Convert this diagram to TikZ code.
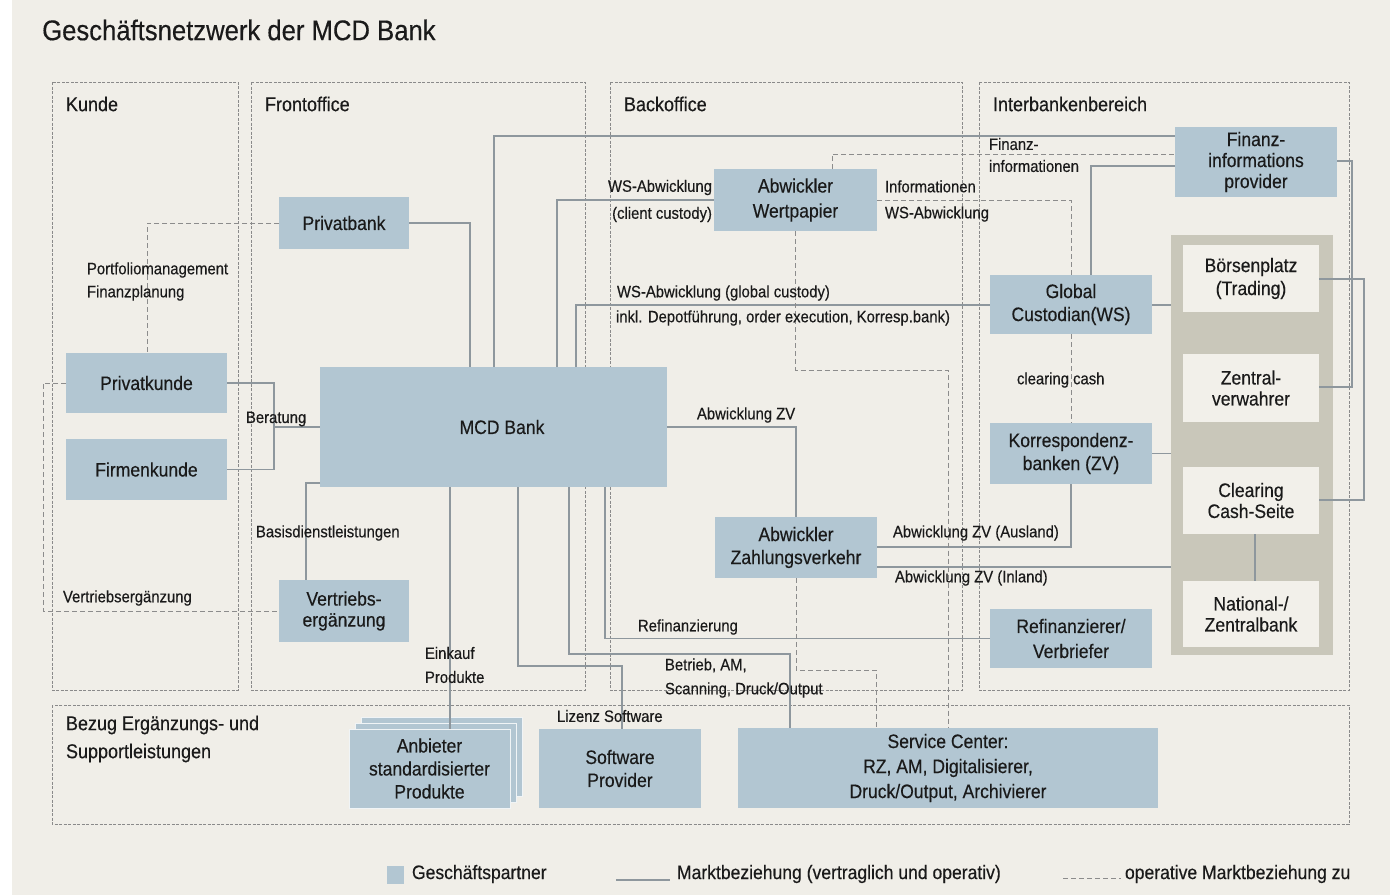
\documentclass[tikz,border=0pt]{standalone}
\usepackage{fontspec}
\setmainfont{Liberation Sans}[FakeStretch=0.9, FakeBold=0.35]
\definecolor{bgc}{HTML}{F0EEE8}
\definecolor{nodeblue}{HTML}{B2C6D2}
\definecolor{contc}{HTML}{C9C7BA}
\definecolor{innerc}{HTML}{F2F0EA}
\definecolor{linec}{HTML}{8E979D}
\definecolor{dashc}{HTML}{8C8C8C}
\definecolor{borderc}{HTML}{8A8A8A}
\definecolor{textc}{HTML}{1A1A1A}
\newcommand{\fnode}{\fontsize{19.5}{23}\selectfont}
\newcommand{\fnodewide}{\fontsize{19.5}{25}\selectfont}
\newcommand{\fnodetight}{\fontsize{19.5}{21}\selectfont}
\newcommand{\flabel}{\fontsize{16.5}{23}\selectfont}
\newcommand{\fregion}{\fontsize{20}{28}\selectfont}
\newcommand{\flegend}{\fontsize{19.5}{23}\selectfont}
\newcommand{\ftitle}{\fontsize{28.5}{32}\selectfont}
\begin{document}
\begin{tikzpicture}[x=1pt,y=-1pt,
  partner/.style={fill=nodeblue, draw=none, inner sep=2pt, outer sep=0pt, align=center, font=\fnode, text=textc},
  innerbox/.style={fill=innerc, draw=none, inner sep=2pt, outer sep=0pt, align=center, font=\fnode, text=textc},
  lbl/.style={inner sep=0pt, outer sep=0pt, font=\flabel, anchor=west, text=textc, align=left},
  regionlbl/.style={inner sep=0pt, outer sep=0pt, font=\fregion, anchor=west, text=textc, align=left},
  region/.style={draw=borderc, line width=0.8pt, dash pattern=on 3pt off 1.5pt},
  mrel/.style={draw=linec, line width=1.1pt},
  orel/.style={draw=dashc, line width=1pt, dash pattern=on 5pt off 3pt}
]
% background
\useasboundingbox (0,0) rectangle (1390,895);
\fill[bgc] (0,0) rectangle (1390,895);
\fill[white] (0,0) rectangle (12,895);

% title
\node[inner sep=0pt, anchor=west, font=\ftitle, text=textc] (title) at (42,30) {Geschäftsnetzwerk der MCD Bank};

% regions
\draw[region] (52,82) rectangle (238,690);
\draw[region] (251,82) rectangle (585,690);
\draw[region] (610,82) rectangle (962,690);
\draw[region] (979,82) rectangle (1349,690);
\draw[region] (52,705) rectangle (1349,824);
\node[regionlbl] (rkunde) at (66,104) {Kunde};
\node[regionlbl] (rfront) at (265,104) {Frontoffice};
\node[regionlbl] (rback) at (624,104) {Backoffice};
\node[regionlbl] (rinter) at (993,104) {Interbankenbereich};
\node[regionlbl] (rbezug) at (66,739) {Bezug Ergänzungs- und\\Supportleistungen};

% grey container
\node[fill=contc, draw=none, inner sep=0pt, outer sep=0pt, minimum width=162pt, minimum height=420pt] (container) at (1252,445) {};

% stacked layers behind Anbieter
\fill[nodeblue] (361,717) rectangle (522,796);
\draw[white!80!nodeblue, line width=0.8pt] (361,717) rectangle (522,796);
\fill[nodeblue] (355,723) rectangle (516,802);
\draw[white!80!nodeblue, line width=0.8pt] (355,723) rectangle (516,802);

% nodes
\node[partner, minimum width=130pt, minimum height=52pt] (pbank) at (344,223) {Privatbank};
\node[partner, minimum width=161pt, minimum height=60pt] (pkunde) at (146.5,383) {Privatkunde};
\node[partner, minimum width=161pt, minimum height=61pt] (fkunde) at (146.5,469.5) {Firmenkunde};
\node[partner, minimum width=347pt, minimum height=120pt] (mcd) at (493.5,427) {\hspace*{17pt}MCD Bank};
\node[partner, minimum width=130pt, minimum height=62pt, font=\fnodetight] (vertrieb) at (344,611) {Vertriebs-\\ergänzung};
\node[partner, minimum width=163pt, minimum height=62pt, font=\fnodewide] (awp) at (795.5,200) {Abwickler\\Wertpapier};
\node[partner, minimum width=162pt, minimum height=61pt] (azv) at (796,547.5) {Abwickler\\Zahlungsverkehr};
\node[partner, minimum width=162pt, minimum height=70pt, font=\fnodetight] (finprov) at (1256,162) {Finanz-\\informations\\provider};
\node[partner, minimum width=162pt, minimum height=59pt] (global) at (1071,304.5) {Global\\Custodian(WS)};
\node[partner, minimum width=162pt, minimum height=61pt] (korr) at (1071,453.5) {Korrespondenz-\\banken (ZV)};
\node[partner, minimum width=162pt, minimum height=59pt, font=\fnodewide] (refin) at (1071,638.5) {Refinanzierer/\\Verbriefer};
\node[innerbox, minimum width=136pt, minimum height=67pt] (boerse) at (1251,278.5) {Börsenplatz\\(Trading)};
\node[innerbox, minimum width=136pt, minimum height=68pt, font=\fnodetight] (zentral) at (1251,388) {Zentral-\\verwahrer};
\node[innerbox, minimum width=136pt, minimum height=67pt, font=\fnodetight] (clearing) at (1251,500.5) {Clearing\\Cash-Seite};
\node[innerbox, minimum width=136pt, minimum height=66pt, font=\fnodetight] (national) at (1251,614) {National-/\\Zentralbank};
\node[partner, draw=white!80!nodeblue, line width=0.8pt, minimum width=161pt, minimum height=79pt] (anbieter) at (429.5,768.5) {Anbieter\\standardisierter\\Produkte};
\node[partner, minimum width=162pt, minimum height=79pt] (software) at (620,768.5) {Software\\Provider};
\node[partner, minimum width=420pt, minimum height=80pt, font=\fnodewide] (service) at (948,768) {Service Center:\\RZ, AM, Digitalisierer,\\Druck/Output, Archivierer};

% solid connectors (Marktbeziehung)
\draw[mrel] (pbank.east) -| (mcd.north -| 470,0);
\draw[mrel] (mcd.north -| 494,0) |- (finprov.west |- 0,136);
\draw[mrel] (mcd.north -| 557,0) |- (awp.west);
\draw[mrel] (mcd.north -| 576,0) |- (global.west |- 0,305);
\draw[mrel] (finprov.west |- 0,166) -| (global.north -| 1091,0);
\draw[mrel] (mcd.east) -| (azv.north);
\draw[mrel] (azv.east |- 0,547) -| (korr.south);
\draw[mrel] (azv.east |- 0,567) -- (container.west |- 0,567);
\draw[mrel] (global.east |- 0,305) -- (container.west |- 0,305);
\draw[mrel] (korr.east) -- (container.west |- korr.east);
\draw[mrel] (finprov.east |- 0,161) -- (1352,161) -- (1352,387) -- (zentral.east |- 0,387);
\draw[mrel] (boerse.east |- 0,279) -- (1364,279) -- (1364,500) -- (clearing.east |- 0,500);
\draw[mrel] (clearing.south -| 1255,0) -- (national.north -| 1255,0);
\draw[mrel] (pkunde.east) -- (274,383) -- (274,469.5) -- (fkunde.east);
\draw[mrel] (274,427) -- (mcd.west);
\draw[mrel] (mcd.west |- 0,483) -| (vertrieb.north -| 306,0);
\draw[mrel] (mcd.south -| 450,0) -- (anbieter.north -| 450,0);
\draw[mrel] (mcd.south -| 518,0) -- (518,666) -| (software.north -| 622,0);
\draw[mrel] (mcd.south -| 569,0) -- (569,654) -| (service.north -| 790,0);
\draw[mrel] (mcd.south -| 605,0) |- (refin.west);

% dashed connectors (operative Marktbeziehung)
\draw[orel] (pbank.west) -| (pkunde.north -| 147,0);
\draw[orel] (awp.north -| 832,0) |- (finprov.west |- 0,154);
\draw[orel] (awp.east) -| (global.north);
\draw[orel] (awp.south) -- (795.5,370) -- (948,370) -- (service.north -| 948,0);
\draw[orel] (azv.south) -- (796,670) -| (service.north -| 876,0);
\draw[orel] (global.south) -- (korr.north);
\draw[orel] (pkunde.west) -- (43,383) -- (43,611) -- (vertrieb.west);

% connector labels
\node[lbl] (lpf) at (87,281.5) {Portfoliomanagement\\Finanzplanung};
\node[lbl] (lber) at (246,419) {Beratung};
\node[lbl] (lbas) at (256,533) {Basisdienstleistungen};
\node[lbl] (lvert) at (63,598) {Vertriebsergänzung};
\node[lbl, font={\fontsize{16.5}{24}\selectfont}] (lein) at (425,665) {Einkauf\\Produkte};
\node[lbl] (lliz) at (557,716) {Lizenz Software};
\node[lbl, font={\fontsize{16.5}{24}\selectfont}] (lbet) at (665,678) {Betrieb, AM,\\Scanning, Druck/Output};
\node[lbl] (lref) at (638,627) {Refinanzierung};
\node[lbl] (lazv) at (697,415) {Abwicklung ZV};
\node[lbl] (laus) at (893,533) {Abwicklung ZV (Ausland)};
\node[lbl] (linl) at (895,578) {Abwicklung ZV (Inland)};
\node[lbl, anchor=east, align=right, font={\fontsize{16.5}{27}\selectfont}] (lcli) at (712,201) {WS-Abwicklung\\(client custody)};
\node[lbl, font={\fontsize{16.5}{26}\selectfont}] (linf) at (885,201) {Informationen\\WS-Abwicklung};
\node[lbl] (lglo) at (617,293) {WS-Abwicklung (global custody)};
\node[lbl] (linkl) at (616,318) {inkl. Depotführung, order execution, Korresp.bank)};
\node[lbl, font={\fontsize{16.5}{22}\selectfont}] (lfin) at (989,155) {Finanz-\\informationen};
\node[lbl] (lclr) at (1017,380) {clearing cash};

% legend
\node[partner, minimum width=17pt, minimum height=18pt, inner sep=0pt] (legsq) at (395.5,875) {};
\node[lbl, font=\flegend] (legt1) at (412,874) {Geschäftspartner};
\coordinate (lega) at (616,880);
\coordinate (legb) at (670,880);
\draw[mrel] (lega) -- (legb);
\node[lbl, font=\flegend] (legt2) at (677,874) {Marktbeziehung (vertraglich und operativ)};
\coordinate (legc) at (1063,878);
\coordinate (legd) at (1121,878);
\draw[orel] (legc) -- (legd);
\node[lbl, font=\flegend] (legt3) at (1125,874) {operative Marktbeziehung zu};
\end{tikzpicture}
\end{document}
